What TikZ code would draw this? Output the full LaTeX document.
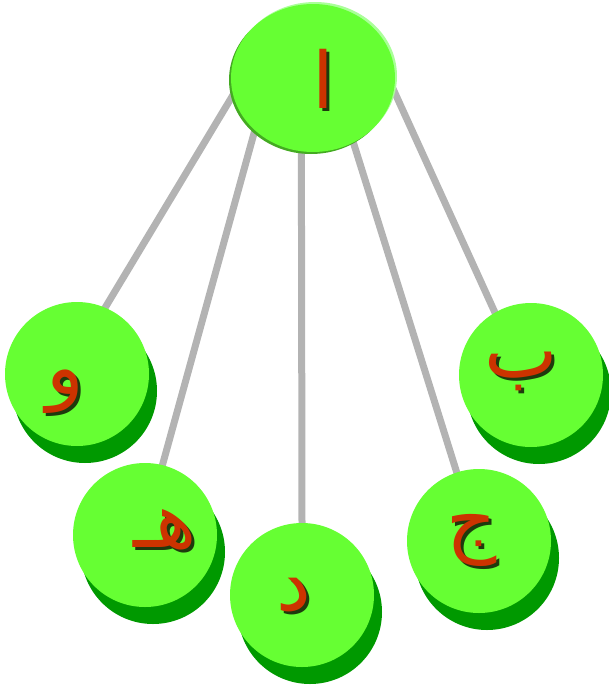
\documentclass[tikz,border=0pt]{standalone}
\usepackage{fontspec}
\TeXXeTstate=1
\newfontfamily\arabicfont[Script=Arabic]{DejaVu Sans}
\usetikzlibrary{shapes.geometric,shadows,backgrounds,calc}
\definecolor{nodegreen}{HTML}{66FF33}
\definecolor{shadowgreen}{HTML}{009900}
\definecolor{rimdark}{HTML}{44AA22}
\definecolor{rimlight}{HTML}{AAFF99}
\definecolor{letterred}{HTML}{CC3300}
\definecolor{lettershade}{HTML}{1E3A0E}
\definecolor{linegray}{HTML}{B3B3B3}
\tikzset{
  topnode/.style={ellipse, fill=nodegreen, minimum width=164pt, minimum height=148pt, inner sep=0pt,
    general shadow={shadow xshift=-2pt, shadow yshift=-2pt, fill=rimdark},
    general shadow={shadow xshift=2pt, shadow yshift=2pt, fill=rimlight}},
  childnode/.style={circle, fill=nodegreen, minimum size=144pt, inner sep=0pt,
    general shadow={shadow xshift=8pt, shadow yshift=-17pt, fill=shadowgreen}},
  conn/.style={draw=linegray, line width=7pt, shorten <=-6pt, shorten >=-6pt},
  letter/.style={inner sep=0pt, text=letterred, font=\arabicfont\fontsize{78}{78}\selectfont}
}
\newcommand\arabletter[3]{%
  \node[letter] (#1) at (#2) {\rlap{\hspace{3pt}\raisebox{-3pt}{\textcolor{lettershade}{\beginR #3\endR}}}\beginR #3\endR};}
\begin{document}
\begin{tikzpicture}[x=1pt,y=-1pt]
\useasboundingbox (0,0) rectangle (609,688);
\node[topnode] (a) at (313,78) {};
\node[childnode] (b) at (531,375) {};
\node[childnode] (j) at (479,541) {};
\node[childnode] (w) at (77,374) {};
\node[childnode] (h) at (145,535) {};
\node[childnode] (d) at (302,595) {};
\begin{scope}[on background layer]
  \draw[conn] (a.192) -- (w.67);
  \draw[conn] (a.222) -- (h.76);
  \draw[conn] (a.261) -- (d.90);
  \draw[conn] (a.302) -- (j.108);
  \draw[conn] (a.351) -- (b.120);
\end{scope}
\arabletter{at}{323,80}{ا}
\arabletter{bt}{521,373}{ب}
\arabletter{jt}{472,542}{ج}
\arabletter{dt}{294,597}{د}
\arabletter{ht}{165,531}{هـ}
\arabletter{wt}{65,393}{و}
\end{tikzpicture}
\end{document}
